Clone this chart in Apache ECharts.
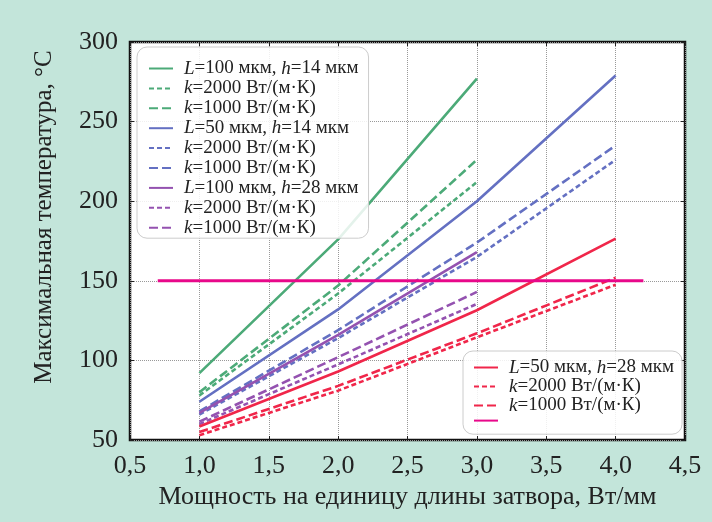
<!DOCTYPE html>
<html>
<head>
<meta charset="utf-8">
<script src="https://cdn.jsdelivr.net/npm/echarts@6/dist/echarts.min.js"></script>
<style>
html,body{margin:0;padding:0;background:#c3e5da;}
#c{width:712px;height:522px;}
</style>
</head>
<body>
<div id="c"></div>
<script>
// ---- data ----
const xs3 = [1, 2, 3];
const xs4 = [1, 2, 3, 4];
const gSolid = [92, 176, 277];
const gK2000 = [78, 142, 212];
const gK1000 = [80, 147, 226];
const bSolid = [74, 132, 200, 279];
const bK2000 = [66, 114, 165, 226];
const bK1000 = [68, 119, 174, 235];
const pSolid = [67, 116, 168];
const pK2000 = [60, 97.5, 135.5];
const pK1000 = [61.5, 102, 143];
const rSolid = [58.5, 93, 131.5, 176.5];
const rK2000 = [53, 81, 114.5, 147.5];
const rK1000 = [55, 84, 117, 152];
const limitX = [0.7, 4.2];
const limitY = 150;
const xTicks = [0.5, 1.0, 1.5, 2.0, 2.5, 3.0, 3.5, 4.0, 4.5];
const yTicks = [50, 100, 150, 200, 250, 300];

const labels = {
  g_s: '{s| }{i|L}=100 мкм, {i|h}=14 мкм',
  g_2: '{s| }{i|k}=2000 Вт/(м·К)',
  g_1: '{s| }{i|k}=1000 Вт/(м·К)',
  b_s: '{s| }{i|L}=50 мкм, {i|h}=14 мкм',
  b_2: '{s| }{i|k}=2000 Вт/(м·К)',
  b_1: '{s| }{i|k}=1000 Вт/(м·К)',
  p_s: '{s| }{i|L}=100 мкм, {i|h}=28 мкм',
  p_2: '{s| }{i|k}=2000 Вт/(м·К)',
  p_1: '{s| }{i|k}=1000 Вт/(м·К)',
  r_s: '{s| }{i|L}=50 мкм, {i|h}=28 мкм',
  r_2: '{s| }{i|k}=2000 Вт/(м·К)',
  r_1: '{s| }{i|k}=1000 Вт/(м·К)',
  lim: ''
};

const C = { g: '#4caa78', b: '#6470c2', p: '#9452b0', r: '#f0264a', lim: '#e8088a' };
const DOT = [5, 3];
const DASH = [9, 4];
const LW = 2.6;

function pairs(xs, ys) { return xs.map((x, i) => [x, ys[i]]); }
function mk(name, color, xs, ys, type) {
  return {
    name: name, type: 'line', data: pairs(xs, ys), symbol: 'none', symbolSize: 0,
    lineStyle: { color: color, width: LW, type: type, cap: 'butt' },
    itemStyle: { color: color }, z: 3, silent: true, animation: false
  };
}

const series = [
  mk('g_s', C.g, xs3, gSolid, 'solid'),
  mk('g_2', C.g, xs3, gK2000, DOT),
  mk('g_1', C.g, xs3, gK1000, DASH),
  mk('b_s', C.b, xs4, bSolid, 'solid'),
  mk('b_2', C.b, xs4, bK2000, DOT),
  mk('b_1', C.b, xs4, bK1000, DASH),
  mk('p_s', C.p, xs3, pSolid, 'solid'),
  mk('p_2', C.p, xs3, pK2000, DOT),
  mk('p_1', C.p, xs3, pK1000, DASH),
  mk('r_s', C.r, xs4, rSolid, 'solid'),
  mk('r_2', C.r, xs4, rK2000, DOT),
  mk('r_1', C.r, xs4, rK1000, DASH),
  mk('lim', C.lim, limitX, [limitY, limitY], 'solid')
];
series[12].lineStyle.width = 3;

const serif = 'Liberation Serif';
const legText = {
  fontFamily: serif, fontSize: 19, color: '#222', lineHeight: 14,
  rich: {
    i: { fontFamily: serif, fontSize: 19, fontStyle: 'italic', color: '#222', lineHeight: 14 },
    s: { width: 6, fontSize: 10, lineHeight: 14 }
  }
};
function legend(names, left, top, gap, pad) {
  return {
    data: names, orient: 'vertical', left: left, top: top,
    itemWidth: 24, itemHeight: 14, itemGap: gap, padding: pad,
    itemStyle: { opacity: 0 },
    backgroundColor: 'rgba(255,255,255,0.85)', borderColor: '#cccccc', borderWidth: 1, borderRadius: 10,
    formatter: n => labels[n], textStyle: legText, selectedMode: false, z: 10
  };
}

const fmt = v => v.toFixed(1).replace('.', ',');
const axLabel = { fontFamily: serif, fontSize: 26, color: '#222' };

const chart = echarts.init(document.getElementById('c'), null, { renderer: 'canvas' });
chart.setOption({
  backgroundColor: '#c3e5da',
  animation: false,
  grid: { left: 130, right: 27, top: 42, bottom: 82, show: true, backgroundColor: '#ffffff', borderColor: '#111', borderWidth: 2.5 },
  legend: [
    legend(['g_s','g_2','g_1','b_s','b_2','b_1','p_s','p_2','p_1'], 137, 47, 0.9, [12, 10, 1, 11]),
    legend(['r_s','r_2','r_1','lim'], 463, 351, 0, [7, 8, 8, 10])
  ],
  xAxis: [
    {
      type: 'value', min: 0.5, max: 4.5, interval: 0.5, position: 'bottom',
      name: 'Мощность на единицу длины затвора, Вт/мм', nameLocation: 'middle', nameGap: 40,
      nameTextStyle: { fontFamily: serif, fontSize: 26, color: '#222' },
      axisLine: { show: false },
      axisTick: { show: true, inside: true, length: 4, lineStyle: { color: '#222', width: 1 } },
      axisLabel: Object.assign({ margin: 13, formatter: fmt }, axLabel),
      splitLine: { show: true, lineStyle: { color: '#999', type: 'dotted', width: 1 } }
    },
    {
      type: 'value', min: 0.5, max: 4.5, interval: 0.5, position: 'top',
      axisLine: { show: false }, axisLabel: { show: false }, splitLine: { show: false },
      axisTick: { show: true, inside: true, length: 4, lineStyle: { color: '#222', width: 1 } }
    }
  ],
  yAxis: [
    {
      type: 'value', min: 50, max: 300, interval: 50, position: 'left',
      name: 'Максимальная температура, °С', nameLocation: 'middle', nameGap: 73,
      nameTextStyle: { fontFamily: serif, fontSize: 25, color: '#222', padding: [0, 0, 0, 48] },
      axisLine: { show: false },
      axisTick: { show: true, inside: true, length: 4, lineStyle: { color: '#222', width: 1 } },
      axisLabel: Object.assign({ margin: 12 }, axLabel),
      splitLine: { show: true, lineStyle: { color: '#999', type: 'dotted', width: 1 } }
    },
    {
      type: 'value', min: 50, max: 300, interval: 50, position: 'right',
      axisLine: { show: false }, axisLabel: { show: false }, splitLine: { show: false },
      axisTick: { show: true, inside: true, length: 4, lineStyle: { color: '#222', width: 1 } }
    }
  ],
  series: series
});
</script>
</body>
</html>
